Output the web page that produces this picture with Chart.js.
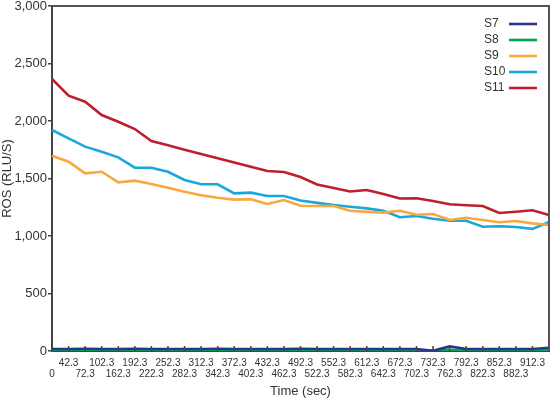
<!DOCTYPE html>
<html><head><meta charset="utf-8">
<script src="https://cdn.jsdelivr.net/npm/chart.js@4/dist/chart.umd.min.js"></script>
<style>html,body{margin:0;padding:0;background:#fff}#wrap{width:553px;height:399px}</style>
</head><body><div id="wrap"><canvas id="c" width="553" height="399"></canvas></div>
<script>
const timeLabels = ['0','42.3','72.3','102.3','162.3','192.3','222.3','252.3','282.3','312.3','342.3','372.3','402.3','432.3','462.3','492.3','522.3','552.3','582.3','612.3','642.3','672.3','702.3','732.3','762.3','792.3','822.3','852.3','882.3','912.3',''];
const s7  = [18,18,19,18,18,19,18,18,18,18,19,18,18,18,18,19,18,18,18,18,18,18,18,2,40,18,18,18,18,18,28];
const s8  = [5,5,5,5,5,5,5,5,5,5,5,5,5,5,5,5,5,5,5,5,5,5,5,4,10,5,5,5,5,5,6];
const s9  = [1698,1646,1545,1559,1467,1481,1452,1420,1385,1354,1333,1316,1319,1278,1313,1263,1261,1261,1220,1210,1203,1220,1185,1191,1139,1159,1139,1119,1130,1110,1096];
const s10 = [1922,1849,1777,1733,1684,1594,1594,1559,1487,1450,1450,1371,1377,1348,1348,1308,1288,1270,1255,1240,1220,1163,1174,1150,1132,1133,1080,1085,1078,1062,1122];
const s11 = [2365,2220,2168,2052,1994,1930,1826,1789,1751,1714,1677,1640,1602,1565,1557,1513,1448,1417,1387,1400,1365,1326,1328,1304,1276,1267,1261,1200,1211,1224,1183];
const yTicks = [0,500,1000,1500,2000,2500,3000];

const FONT = 'Liberation Sans, Arial, sans-serif';
const TXT = '#333';
const AX = '#444';

function ds(label, data, color){
  return {label, data, borderColor: color, backgroundColor: color, borderWidth: 2.6,
          pointRadius: 0, tension: 0, fill: false};
}

const frame = {
  id: 'frame',
  afterDraw(chart){
    const {ctx, chartArea:a, scales:{x}} = chart;
    ctx.save();
    // inward x ticks
    ctx.strokeStyle = AX; ctx.lineWidth = 1.5;
    for (let i = 1; i < timeLabels.length - 1; i++){
      const px = x.getPixelForTick(i);
      ctx.beginPath(); ctx.moveTo(px, a.bottom); ctx.lineTo(px, a.bottom - 5); ctx.stroke();
    }
    // top & right border
    ctx.strokeStyle = '#555'; ctx.lineWidth = 2;
    ctx.beginPath(); ctx.moveTo(a.left, a.top); ctx.lineTo(a.right, a.top); ctx.lineTo(a.right, a.bottom); ctx.stroke();
    // legend
    ctx.font = '12px ' + FONT; ctx.textAlign = 'left'; ctx.textBaseline = 'middle';
    chart.data.datasets.forEach((d, i) => {
      const y = 24 + i * 16;
      ctx.fillStyle = TXT; ctx.fillText(d.label, 484, y);
      ctx.strokeStyle = d.borderColor; ctx.lineWidth = 2.6;
      ctx.beginPath(); ctx.moveTo(509, y); ctx.lineTo(537, y); ctx.stroke();
    });
    ctx.restore();
  }
};

new Chart(document.getElementById('c'), {
  type: 'line',
  data: {
    labels: timeLabels,
    datasets: [
      ds('S7', s7, '#2e3192'),
      ds('S8', s8, '#00a651'),
      ds('S9', s9, '#f9a73e'),
      ds('S10', s10, '#1ba7dc'),
      ds('S11', s11, '#be1e2d')
    ]
  },
  options: {
    responsive: false, animation: false,
    layout: {padding: {top: 6, right: 4, left: 0, bottom: 0}},
    plugins: {legend: {display: false}, tooltip: {enabled: false}},
    scales: {
      x: {
        type: 'category',
        grid: {display: false, drawTicks: false},
        border: {display: true, color: AX, width: 2},
        ticks: {
          autoSkip: false, maxRotation: 0, minRotation: 0, padding: 7, color: TXT,
          font: {family: FONT, size: 10, lineHeight: 1.1},
          callback: (v, i) => (i % 2 === 1) ? [timeLabels[i], ''] : ['', timeLabels[i]]
        },
        title: {display: true, text: 'Time (sec)', color: TXT, font: {family: FONT, size: 13}, padding: {top: 0, bottom: 0}},
        afterFit(s){ s.height = 48; s.paddingLeft = 0; s.paddingRight = 0; }
      },
      y: {
        min: 0, max: 3000,
        afterBuildTicks(s){ s.ticks = yTicks.map(v => ({value: v})); },
        grid: {display: true, drawOnChartArea: false, tickLength: 4, color: AX, lineWidth: 1.5},
        border: {display: true, color: AX, width: 2},
        ticks: {padding: 1, color: TXT, font: {family: FONT, size: 13},
                callback: v => Number(v).toLocaleString('en-US')},
        title: {display: true, text: 'ROS (RLU/S)', color: TXT, font: {family: FONT, size: 13}, padding: {top: 0, bottom: 0}},
        afterFit(s){ s.width = 52; s.paddingTop = 0; s.paddingBottom = 0; }
      }
    }
  },
  plugins: [frame]
});
</script></body></html>
